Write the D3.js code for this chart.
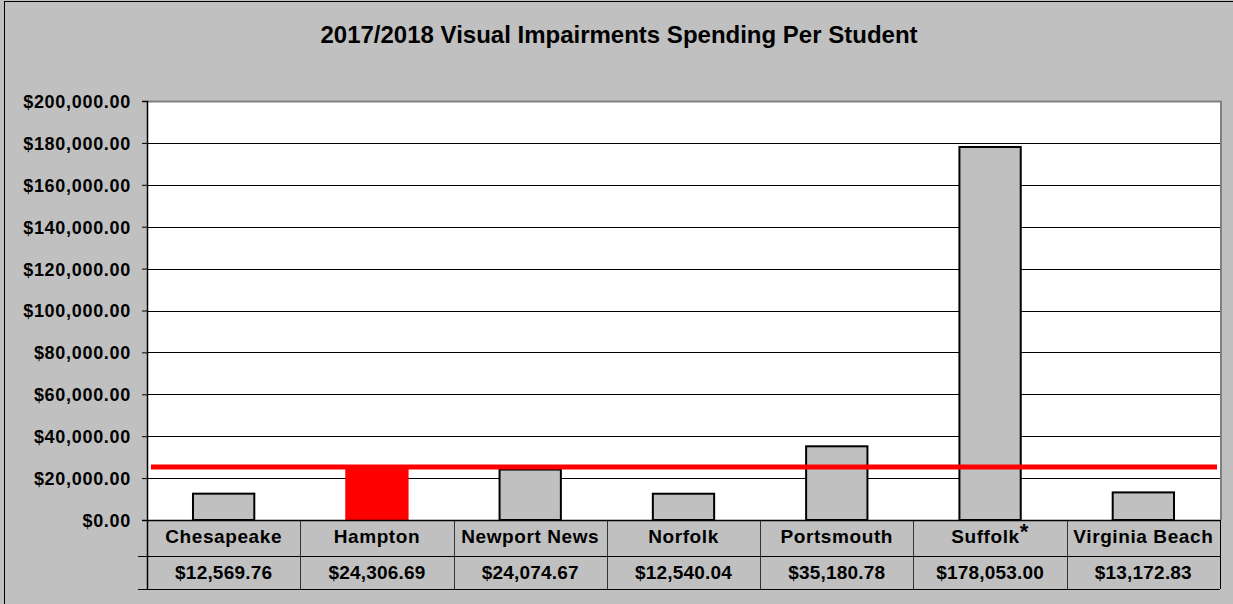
<!DOCTYPE html>
<meta charset="utf-8">
<script src="https://d3js.org/d3.v7.min.js"></script>
<html>
<style>
  body { margin: 0; background: #c0c0c0; }
  svg text { font-family: "Liberation Sans", Arial, sans-serif; font-weight: bold; fill: #000; }
</style>
<body>
<svg id="chart" width="1233" height="604"></svg>
<script>

// data
var districts = ["Chesapeake", "Hampton", "Newport News", "Norfolk", "Portsmouth", "Suffolk", "Virginia Beach"];
var spending = [12569.76, 24306.69, 24074.67, 12540.04, 35180.78, 178053.00, 13172.83];
var highlighted = ["Hampton"];
var footnoted = ["Suffolk"];
var benchmark = 25250;
var yTicks = [0, 20000, 40000, 60000, 80000, 100000, 120000, 140000, 160000, 180000, 200000];
var title = "2017/2018 Visual Impairments Spending Per Student";

var svg = d3.select("#chart");
var plotLeft = 147, plotRight = 1220, plotTop = 101, plotBottom = 520;
var row1 = 556, row2 = 589;

// outer frame
svg.append("rect")
  .attr("x", 4.5).attr("y", 1.5)
  .attr("width", 1240).attr("height", 620)
  .attr("fill", "#c0c0c0").attr("stroke", "#000").attr("stroke-width", 1);

svg.append("text")
  .attr("x", 619).attr("y", 43)
  .attr("text-anchor", "middle")
  .style("font-size", "24px")
  .text(title);

var x = d3.scaleBand()
  .domain(districts)
  .range([plotLeft, plotRight])
  .paddingInner(0.6)
  .paddingOuter(0.3);

var y = d3.scaleLinear()
  .domain([0, 200000])
  .range([plotBottom, plotTop]);

// plot area
svg.append("rect")
  .attr("x", plotLeft).attr("y", plotTop)
  .attr("width", plotRight - plotLeft).attr("height", plotBottom - plotTop)
  .attr("fill", "#fff");

// gridlines
svg.append("g")
  .selectAll("line")
  .data(yTicks.slice(1, -1))
  .enter().append("line")
    .attr("x1", plotLeft).attr("x2", plotRight)
    .attr("y1", function(d) { return Math.round(y(d)) + 0.5; })
    .attr("y2", function(d) { return Math.round(y(d)) + 0.5; })
    .attr("stroke", "#000").attr("stroke-width", 1);

// gray frame top / right
svg.append("path")
  .attr("d", "M" + plotLeft + "," + (plotTop + 0.5) + "H" + (plotRight + 1) + "V" + plotBottom)
  .attr("fill", "none").attr("stroke", "#808080").attr("stroke-width", 2);

// bars
svg.append("g")
  .selectAll("rect")
  .data(districts)
  .enter().append("rect")
    .attr("x", function(d) { return x(d); })
    .attr("y", function(d, i) { return y(spending[i]); })
    .attr("width", x.bandwidth())
    .attr("height", function(d, i) { return plotBottom - y(spending[i]); })
    .attr("fill", function(d) { return highlighted.indexOf(d) >= 0 ? "#ff0000" : "#c0c0c0"; })
    .attr("stroke", function(d) { return highlighted.indexOf(d) >= 0 ? "#ff0000" : "#000"; })
    .attr("stroke-width", 2);

// benchmark line
svg.append("line")
  .attr("x1", plotLeft + 4).attr("x2", plotRight - 3)
  .attr("y1", y(benchmark)).attr("y2", y(benchmark))
  .attr("stroke", "#ff0000").attr("stroke-width", 5);

// y axis
var yAxis = d3.axisLeft(y)
  .tickValues(yTicks)
  .tickSize(5)
  .tickPadding(11)
  .tickFormat(function(d) { return "$" + d3.format(",.2f")(d); });

var ga = svg.append("g")
  .attr("transform", "translate(" + plotLeft + ",0)")
  .call(yAxis);
ga.select(".domain").attr("stroke", "#000").attr("stroke-width", 1.5);
ga.selectAll(".tick line").attr("stroke", "#000");
ga.selectAll(".tick text")
  .style("font-size", "18px")
  .style("letter-spacing", "0.7px")
  .style("font-family", "'Liberation Sans', Arial, sans-serif")
  .attr("fill", "#000")
  .attr("dy", "0.36em");

// data table under the axis
var table = svg.append("g");
var edges = districts.map(function(d) { return x(d) - x.step() * x.paddingInner() / 2; });
edges.push(plotRight);

table.selectAll("line.col")
  .data(edges)
  .enter().append("line")
    .attr("class", "col")
    .attr("x1", function(d) { return Math.round(d) + 0.5; })
    .attr("x2", function(d) { return Math.round(d) + 0.5; })
    .attr("y1", plotBottom).attr("y2", row2)
    .attr("stroke", function(d, i) { return i === 0 || i === edges.length - 1 ? "#000" : "#333"; })
    .attr("stroke-width", function(d, i) { return i === 0 ? 1.5 : 1; });

[plotBottom, row1, row2].forEach(function(yy, i) {
  table.append("line")
    .attr("x1", i === 0 ? plotLeft : 138).attr("x2", plotRight)
    .attr("y1", yy + 0.5).attr("y2", yy + 0.5)
    .attr("stroke", "#000").attr("stroke-width", i === 0 ? 1.5 : 1);
});

var names = table.selectAll("text.name")
  .data(districts)
  .enter().append("text")
    .attr("class", "name")
    .attr("x", function(d) { return x(d) + x.bandwidth() / 2; })
    .attr("y", 543)
    .attr("text-anchor", "middle")
    .style("font-size", "19px")
    .style("letter-spacing", "0.6px")
    .text(function(d) { return d; });

names.filter(function(d) { return footnoted.indexOf(d) >= 0; })
  .append("tspan")
    .attr("dy", "-4")
    .style("font-size", "22px")
    .text("*");

table.selectAll("text.value")
  .data(districts)
  .enter().append("text")
    .attr("class", "value")
    .attr("x", function(d) { return x(d) + x.bandwidth() / 2; })
    .attr("y", 579)
    .attr("text-anchor", "middle")
    .style("font-size", "19px")
    .style("letter-spacing", "0.2px")
    .text(function(d, i) { return "$" + d3.format(",.2f")(spending[i]); });

</script>
</body>
</html>
